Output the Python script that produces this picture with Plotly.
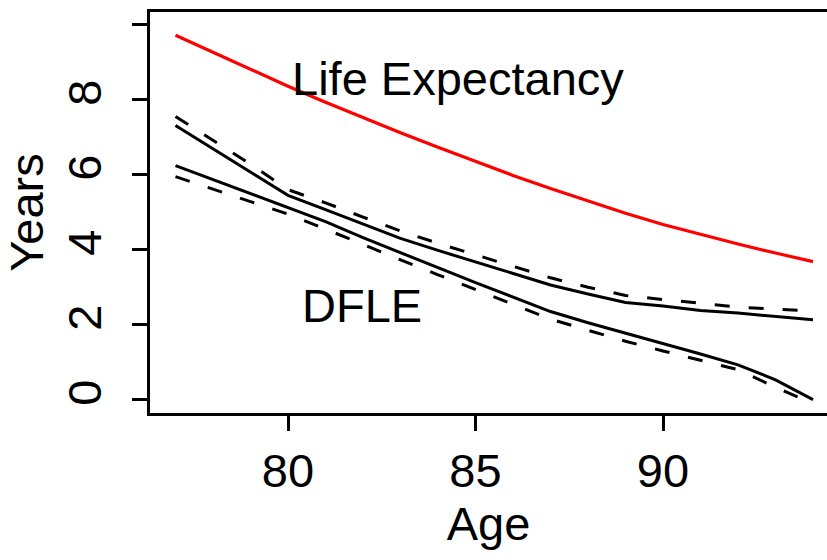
import plotly.graph_objects as go

# Ages covered by the life tables
ages = list(range(77, 95))

# Total life expectancy (years remaining)
life_expectancy = [9.72, 9.26, 8.80, 8.36, 7.93, 7.52, 7.12, 6.73, 6.35,
                   5.98, 5.63, 5.29, 4.97, 4.67, 4.40, 4.15, 3.91, 3.68]

# Disability-free life expectancy, two groups, observed (solid) and model (dashed)
dfle_upper = [7.31, 6.69, 6.06, 5.45, 5.07, 4.68, 4.30, 3.98, 3.68,
              3.38, 3.06, 2.82, 2.59, 2.50, 2.38, 2.31, 2.23, 2.13]
dfle_upper_model = [7.55, 6.92, 6.28, 5.60, 5.25, 4.87, 4.50, 4.17, 3.87,
                    3.55, 3.25, 3.00, 2.78, 2.67, 2.56, 2.47, 2.41, 2.37]
dfle_lower = [6.24, 5.87, 5.50, 5.13, 4.75, 4.32, 3.93, 3.52, 3.12,
              2.73, 2.35, 2.05, 1.78, 1.50, 1.22, 0.93, 0.53, 0.00]
dfle_lower_model = [5.95, 5.62, 5.28, 4.95, 4.55, 4.13, 3.73, 3.33, 2.93,
                    2.53, 2.15, 1.85, 1.56, 1.30, 1.05, 0.80, 0.33, -0.10]

x_ticks = [80, 85, 90]
y_ticks = [0, 2, 4, 6, 8, 10]
y_tick_text = ["0", "2", "4", "6", "8", ""]

FONT = "Liberation Sans, Arial, Helvetica, sans-serif"
FS = 47
DASH = "15px,19px"

fig = go.Figure()
fig.add_trace(go.Scatter(x=ages, y=life_expectancy, mode="lines",
                         line=dict(color="#ff0000", width=3.2)))
fig.add_trace(go.Scatter(x=ages, y=dfle_upper, mode="lines",
                         line=dict(color="black", width=3)))
fig.add_trace(go.Scatter(x=ages, y=dfle_upper_model, mode="lines",
                         line=dict(color="black", width=3, dash=DASH)))
fig.add_trace(go.Scatter(x=ages, y=dfle_lower, mode="lines",
                         line=dict(color="black", width=3)))
fig.add_trace(go.Scatter(x=ages, y=dfle_lower_model, mode="lines",
                         line=dict(color="black", width=3, dash=DASH)))

fig.add_annotation(x=84.53, y=8.56, text="Life Expectancy", showarrow=False,
                   xanchor="center", yanchor="middle",
                   font=dict(family=FONT, size=FS, color="black"))
fig.add_annotation(x=81.98, y=2.5, text="DFLE", showarrow=False,
                   xanchor="center", yanchor="middle",
                   font=dict(family=FONT, size=FS, color="black"))

fig.update_layout(
    width=827, height=560,
    margin=dict(l=150, r=0, t=12, b=147),
    paper_bgcolor="white", plot_bgcolor="white",
    showlegend=False,
    font=dict(family=FONT, size=FS, color="black"),
    xaxis=dict(
        range=[76.32, 94.373],
        tickmode="array", tickvals=x_ticks,
        ticks="outside", ticklen=15, tickwidth=3, tickcolor="black",
        showline=True, linewidth=3, linecolor="black", mirror=True,
        showgrid=False, zeroline=False,
        tickfont=dict(family=FONT, size=FS, color="black"),
        title=dict(text="Age", font=dict(family=FONT, size=FS, color="black"),
                   standoff=9),
    ),
    yaxis=dict(
        range=[-0.355, 10.338],
        tickmode="array", tickvals=y_ticks, ticktext=y_tick_text,
        tickangle=-90, ticklabelstandoff=12,
        ticks="outside", ticklen=15, tickwidth=3, tickcolor="black",
        showline=True, linewidth=3, linecolor="black", mirror=False,
        showgrid=False, zeroline=False,
        tickfont=dict(family=FONT, size=FS, color="black"),
        title=dict(text="Years", font=dict(family=FONT, size=FS, color="black"),
                   standoff=0),
    ),
)

fig.write_html("out.html")
